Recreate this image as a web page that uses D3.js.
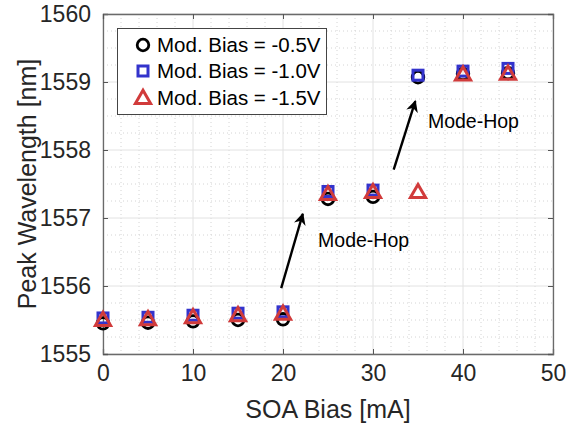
<!DOCTYPE html>
<html>
<head>
<meta charset="utf-8">
<script src="https://cdn.jsdelivr.net/npm/d3@7"></script>
<style>
  html, body { margin: 0; padding: 0; background: #fff; }
  svg { display: block; font-family: "Liberation Sans", Arial, Helvetica, sans-serif; }
</style>
</head>
<body>
<script>
"use strict"

// data
const soaBias = [0, 5, 10, 15, 20, 25, 30, 35, 40, 45];
const wlBias05 = [1555.45, 1555.46, 1555.48, 1555.50, 1555.51, 1557.28, 1557.31, 1559.07, 1559.12, 1559.13];
const wlBias10 = [1555.53, 1555.54, 1555.57, 1555.60, 1555.62, 1557.39, 1557.41, 1559.10, 1559.16, 1559.20];
const wlBias15 = [1555.50, 1555.51, 1555.54, 1555.57, 1555.59, 1557.35, 1557.38, 1557.38, 1559.11, 1559.12];
const seriesNames = ['Mod. Bias = -0.5V', 'Mod. Bias = -1.0V', 'Mod. Bias = -1.5V'];
const xTicks = [0, 10, 20, 30, 40, 50];
const yTicks = [1555, 1556, 1557, 1558, 1559, 1560];
// arrows: [x0, y0, x1, y1] in data units, notes: [x, y, text]
const arrows = [[19.8, 1555.97, 22.2, 1557.06], [32.3, 1557.71, 34.7, 1558.72]];
const notes = [[23.9, 1556.58, 'Mode-Hop'], [36.1, 1558.33, 'Mode-Hop']];

const w = 576, h = 427;
const padL = 103, padR = 553, padT = 14, padB = 354;

const svg = d3.select('body').append('svg')
	.attr('width', w)
	.attr('height', h);

const xScale = d3.scaleLinear().domain([0, 50]).range([padL, padR]);
const yScale = d3.scaleLinear().domain([1555, 1560]).range([padB, padT]);

// minor grid (dotted)
const xMinor = d3.range(0, 50.01, 2).filter(v => v % 10 !== 0);
const yMinor = d3.range(1555, 1560.01, 0.25).filter(v => Math.abs(v - Math.round(v)) > 0.01);
const grid = svg.append('g');
grid.selectAll('.xminor').data(xMinor).enter().append('line')
	.attr('x1', d => xScale(d)).attr('x2', d => xScale(d))
	.attr('y1', padT).attr('y2', padB)
	.attr('stroke', '#d4d4d4').attr('stroke-width', 1).attr('stroke-dasharray', '1,3');
grid.selectAll('.yminor').data(yMinor).enter().append('line')
	.attr('y1', d => yScale(d)).attr('y2', d => yScale(d))
	.attr('x1', padL).attr('x2', padR)
	.attr('stroke', '#d4d4d4').attr('stroke-width', 1).attr('stroke-dasharray', '1,3');
// major grid
grid.selectAll('.xmajor').data(xTicks).enter().append('line')
	.attr('x1', d => xScale(d)).attr('x2', d => xScale(d))
	.attr('y1', padT).attr('y2', padB)
	.attr('stroke', '#e2e2e2').attr('stroke-width', 1);
grid.selectAll('.ymajor').data(yTicks).enter().append('line')
	.attr('y1', d => yScale(d)).attr('y2', d => yScale(d))
	.attr('x1', padL).attr('x2', padR)
	.attr('stroke', '#e2e2e2').attr('stroke-width', 1);

// axes (inward ticks on all four sides)
const tickCol = '#555';
const xAxis = d3.axisBottom(xScale).tickValues(xTicks).tickSize(-5).tickPadding(11).tickFormat(d3.format('d'));
const yAxis = d3.axisLeft(yScale).tickValues(yTicks).tickSize(-5).tickPadding(12).tickFormat(d3.format('d'));

const gx = svg.append('g').attr('transform', 'translate(0,' + padB + ')').call(xAxis);
const gy = svg.append('g').attr('transform', 'translate(' + padL + ',0)').call(yAxis);
svg.append('g').attr('transform', 'translate(0,' + padT + ')')
	.call(d3.axisTop(xScale).tickValues(xTicks).tickSize(-5).tickFormat(''));
svg.append('g').attr('transform', 'translate(' + padR + ',0)')
	.call(d3.axisRight(yScale).tickValues(yTicks).tickSize(-5).tickFormat(''));

svg.selectAll('.domain').attr('stroke', '#6a6a6a').attr('stroke-width', 1.3);
svg.selectAll('.tick line').attr('stroke', tickCol);
gx.selectAll('text').attr('font-size', 23).attr('fill', '#262626')
	.attr('font-family', '"Liberation Sans", Arial, sans-serif').attr('dy', '0.71em');
gy.selectAll('text').attr('font-size', 23).attr('fill', '#262626')
	.attr('font-family', '"Liberation Sans", Arial, sans-serif');

// axis labels
svg.append('text')
	.attr('x', (padL + padR) / 2).attr('y', 418)
	.attr('text-anchor', 'middle').attr('font-size', 25).attr('fill', '#262626')
	.text('SOA Bias [mA]');
svg.append('text')
	.attr('transform', 'translate(36,' + ((padT + padB) / 2) + ') rotate(-90)')
	.attr('text-anchor', 'middle').attr('font-size', 25).attr('fill', '#262626')
	.text('Peak Wavelength [nm]');

// markers
const plot = svg.append('g');
const colBlack = '#000', colBlue = '#3333cc', colRed = '#d13b3b';
const triPath = d3.symbol().type(d3.symbolTriangle).size(100);

function drawCircle(g, x, y) {
	g.append('circle').attr('cx', x).attr('cy', y).attr('r', 5.8)
		.attr('fill', 'none').attr('stroke', colBlack).attr('stroke-width', 2.8);
}
function drawSquare(g, x, y) {
	g.append('rect').attr('x', x - 5).attr('y', y - 5).attr('width', 10).attr('height', 10)
		.attr('fill', 'none').attr('stroke', colBlue).attr('stroke-width', 3);
}
function drawTri(g, x, y) {
	g.append('path').attr('d', triPath).attr('transform', 'translate(' + x + ',' + (y + 1) + ')')
		.attr('fill', 'none').attr('stroke', colRed).attr('stroke-width', 3)
		.attr('stroke-linejoin', 'miter');
}

soaBias.forEach((s, i) => drawCircle(plot, xScale(s), yScale(wlBias05[i])));
soaBias.forEach((s, i) => drawSquare(plot, xScale(s), yScale(wlBias10[i])));
soaBias.forEach((s, i) => drawTri(plot, xScale(s), yScale(wlBias15[i])));

// annotations
svg.append('defs').append('marker')
	.attr('id', 'head').attr('viewBox', '0 0 10 10')
	.attr('refX', 9).attr('refY', 5)
	.attr('markerWidth', 5).attr('markerHeight', 5).attr('orient', 'auto')
	.append('path').attr('d', 'M0,0 L10,5 L0,10 L3,5 Z').attr('fill', '#000');
svg.selectAll('.arrow').data(arrows).enter().append('line')
	.attr('x1', d => xScale(d[0])).attr('y1', d => yScale(d[1]))
	.attr('x2', d => xScale(d[2])).attr('y2', d => yScale(d[3]))
	.attr('stroke', '#000').attr('stroke-width', 2.4)
	.attr('marker-end', 'url(#head)');
svg.selectAll('.note').data(notes).enter().append('text')
	.attr('x', d => xScale(d[0])).attr('y', d => yScale(d[1]))
	.attr('font-size', 19.5).attr('fill', '#000')
	.text(d => d[2]);

// legend
const lg = svg.append('g');
lg.append('rect').attr('x', 117.5).attr('y', 28.5).attr('width', 209).attr('height', 86)
	.attr('fill', '#fff').attr('stroke', '#444').attr('stroke-width', 1);
const rowY = [45, 71, 98];
drawCircle(lg, 143, rowY[0]);
drawSquare(lg, 143, rowY[1]);
drawTri(lg, 143, rowY[2]);
lg.selectAll('.lt').data(seriesNames).enter().append('text')
	.attr('x', 157).attr('y', (d, i) => rowY[i])
	.attr('dy', '0.36em').attr('font-size', 20.5).attr('fill', '#000')
	.text(d => d);
</script>
</body>
</html>
